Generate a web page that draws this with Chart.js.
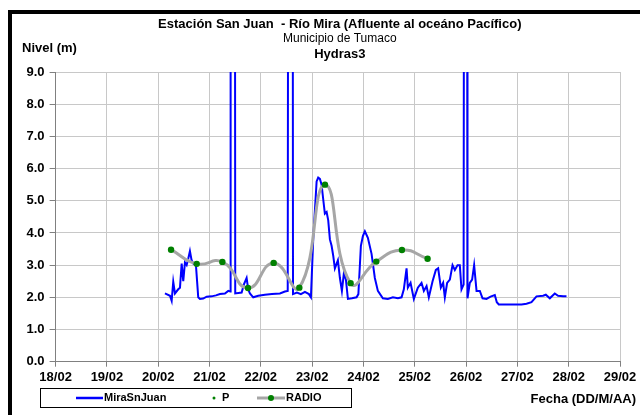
<!DOCTYPE html>
<html>
<head>
<meta charset="utf-8">
<script src="https://cdn.jsdelivr.net/npm/chart.js@4.4.0/dist/chart.umd.min.js"></script>
<style>
  html, body { margin: 0; padding: 0; background: #fff; }
  canvas { display: block; }
</style>
</head>
<body>
<canvas id="chart" width="640" height="415"></canvas>
<script>
'use strict';

// MiraSnJuan: fecha como dia de febrero (fraccion = hora), nivel en metros
const miraFecha = [
  20.131, 20.229, 20.262, 20.293, 20.326, 20.390, 20.424, 20.457, 20.488, 20.521,
  20.554, 20.585, 20.618, 20.651, 20.683, 20.735, 20.780, 20.813, 20.877, 20.944,
  21.041, 21.125, 21.203, 21.300, 21.365, 21.405, 21.411, 21.495, 21.501, 21.626,
  21.670, 21.723, 21.754, 21.787, 21.852, 21.949, 22.079, 22.216, 22.372, 22.469,
  22.524, 22.533, 22.621, 22.627, 22.703, 22.781, 22.859, 22.937, 22.976, 23.021,
  23.087, 23.118, 23.151, 23.184, 23.219, 23.248, 23.282, 23.313, 23.346, 23.379,
  23.410, 23.443, 23.502, 23.541, 23.580, 23.619, 23.658, 23.697, 23.775, 23.866,
  23.901, 23.950, 23.989, 24.028, 24.086, 24.158, 24.222, 24.281, 24.378, 24.476,
  24.573, 24.671, 24.743, 24.787, 24.840, 24.865, 24.918, 24.982, 25.060, 25.132,
  25.177, 25.230, 25.274, 25.347, 25.411, 25.456, 25.508, 25.553, 25.586, 25.631,
  25.684, 25.736, 25.781, 25.834, 25.878, 25.911, 25.952, 25.960, 26.022, 26.028,
  26.073, 26.118, 26.157, 26.204, 26.268, 26.321, 26.398, 26.477, 26.560, 26.599,
  26.638, 26.852, 27.080, 27.178, 27.275, 27.373, 27.501, 27.554, 27.632, 27.729,
  27.793, 27.891, 27.957
];
const miraNivel = [
  2.12, 2.05, 1.89, 2.48, 2.12, 2.25, 2.30, 3.05, 2.50, 3.08,
  3.00, 3.20, 3.44, 3.15, 3.05, 3.00, 2.00, 1.95, 1.96, 2.02,
  2.03, 2.06, 2.10, 2.12, 2.20, 2.18, 15.0, 15.0, 2.12, 2.15,
  2.40, 2.60, 2.25, 2.12, 2.00, 2.05, 2.08, 2.10, 2.12, 2.18,
  2.20, 15.0, 15.0, 2.10, 2.15, 2.10, 2.17, 2.10, 2.00, 3.80,
  5.60, 5.72, 5.68, 5.50, 5.00, 4.60, 4.65, 4.40, 3.80, 3.60,
  3.30, 2.90, 3.15, 2.60, 2.20, 2.75, 2.55, 1.95, 1.97, 2.00,
  2.10, 3.60, 3.90, 4.05, 3.85, 3.35, 2.60, 2.20, 1.97, 1.95,
  2.00, 1.97, 2.00, 2.25, 2.90, 2.30, 2.45, 1.95, 2.30, 2.45,
  2.20, 2.35, 2.00, 2.50, 2.85, 2.90, 2.30, 2.45, 2.00, 2.45,
  2.55, 3.00, 2.85, 3.00, 3.00, 2.25, 2.40, 15.0, 15.0, 1.97,
  2.45, 2.55, 3.00, 2.20, 2.20, 1.97, 1.95, 2.02, 2.07, 1.85,
  1.78, 1.78, 1.78, 1.80, 1.85, 2.03, 2.05, 2.08, 1.97, 2.12,
  2.05, 2.03, 2.03
];

// P y RADIO: un valor cada 12 horas
const radioFecha = [20.25, 20.75, 21.25, 21.75, 22.25, 22.75, 23.25, 23.75, 24.25, 24.75, 25.25];
const radioNivel = [3.48, 3.04, 3.10, 2.29, 3.07, 2.30, 5.50, 2.44, 3.11, 3.47, 3.20];

// ejes
const diasEje = [18, 19, 20, 21, 22, 23, 24, 25, 26, 27, 28, 29];
const etiquetasFecha = ['18/02', '19/02', '20/02', '21/02', '22/02', '23/02',
  '24/02', '25/02', '26/02', '27/02', '28/02', '29/02'];
const nivelEje = [0, 1, 2, 3, 4, 5, 6, 7, 8, 9];

const fuente = 'Liberation Sans, Arial, sans-serif';

function puntos(xs, ys) {
  const out = [];
  for (let i = 0; i < xs.length; i++) {
    out.push({ x: xs[i], y: ys[i] });
  }
  return out;
}

// marco negro, titulos y leyenda (estilo hoja de calculo)
const adornos = {
  id: 'adornos',
  beforeDraw(chart) {
    const ctx = chart.ctx;
    ctx.save();
    ctx.fillStyle = '#ffffff';
    ctx.fillRect(0, 0, chart.width, chart.height);
    ctx.fillStyle = '#000000';
    ctx.fillRect(8, 10, 4, chart.height - 10);
    ctx.fillRect(8, 10, chart.width - 8, 4);
    ctx.restore();
  },
  afterDraw(chart) {
    const ctx = chart.ctx;
    const area = chart.chartArea;
    const cx = (area.left + area.right) / 2 + 2;
    ctx.save();
    ctx.fillStyle = '#000000';
    ctx.textBaseline = 'middle';

    ctx.textAlign = 'center';
    ctx.font = 'bold 13px ' + fuente;
    ctx.fillText('Estación San Juan  - Río Mira (Afluente al oceáno Pacífico)', cx, 24);
    ctx.font = '12px ' + fuente;
    ctx.fillText('Municipio de Tumaco', cx, 39);
    ctx.font = 'bold 13px ' + fuente;
    ctx.fillText('Hydras3', cx, 54);

    ctx.textAlign = 'left';
    ctx.fillText('Nivel (m)', 22, 48);
    ctx.textAlign = 'right';
    ctx.fillText('Fecha (DD/M/AA)', 636, 399);

    // leyenda
    ctx.strokeStyle = '#000000';
    ctx.lineWidth = 1;
    ctx.strokeRect(40.5, 388.5, 311, 19);
    const ly = 398;
    ctx.lineCap = 'butt';
    ctx.strokeStyle = '#0000ff';
    ctx.lineWidth = 2.5;
    ctx.beginPath();
    ctx.moveTo(76, ly);
    ctx.lineTo(103, ly);
    ctx.stroke();
    ctx.strokeStyle = '#a6a6a6';
    ctx.lineWidth = 3;
    ctx.beginPath();
    ctx.moveTo(257, ly);
    ctx.lineTo(285, ly);
    ctx.stroke();
    ctx.fillStyle = '#008000';
    ctx.beginPath();
    ctx.arc(214, ly, 1.5, 0, Math.PI * 2);
    ctx.fill();
    ctx.beginPath();
    ctx.arc(271, ly, 3, 0, Math.PI * 2);
    ctx.fill();
    ctx.fillStyle = '#000000';
    ctx.textAlign = 'left';
    ctx.font = 'bold 11px ' + fuente;
    ctx.fillText('MiraSnJuan', 104, ly);
    ctx.fillText('P', 222, ly);
    ctx.fillText('RADIO', 286, ly);
    ctx.restore();
  }
};

const data = {
  datasets: [
    {
      label: 'P',
      data: puntos(radioFecha, radioNivel),
      showLine: false,
      pointRadius: 3.2,
      pointBackgroundColor: '#008000',
      pointBorderWidth: 0,
      order: 0
    },
    {
      label: 'RADIO',
      data: puntos(radioFecha, radioNivel),
      showLine: true,
      borderColor: '#a6a6a6',
      borderWidth: 3,
      tension: 0.5,
      pointRadius: 0,
      order: 1
    },
    {
      label: 'MiraSnJuan',
      data: puntos(miraFecha, miraNivel),
      showLine: true,
      borderColor: '#0000ff',
      borderWidth: 2,
      tension: 0,
      pointRadius: 0,
      clip: 0,
      order: 2
    }
  ]
};

const config = {
  type: 'scatter',
  data: data,
  plugins: [adornos],
  options: {
    responsive: false,
    animation: false,
    events: [],
    layout: { padding: { left: 0, top: 72, right: 20, bottom: 0 } },
    plugins: {
      legend: { display: false },
      title: { display: false },
      tooltip: { enabled: false }
    },
    scales: {
      x: {
        type: 'linear',
        min: diasEje[0],
        max: diasEje[diasEje.length - 1],
        afterBuildTicks: (s) => { s.ticks = diasEje.map(v => ({ value: v })); },
        afterFit: (s) => { s.height = 53.3; },
        ticks: {
          callback: (v) => etiquetasFecha[diasEje.indexOf(v)],
          color: '#000000',
          font: { family: fuente, size: 13, weight: 'bold' },
          padding: 3,
          maxRotation: 0
        },
        grid: { color: '#c8c8c8', tickColor: '#808080', tickLength: 5 },
        border: { color: '#808080', width: 1 }
      },
      y: {
        min: nivelEje[0],
        max: nivelEje[nivelEje.length - 1],
        afterBuildTicks: (s) => { s.ticks = nivelEje.map(v => ({ value: v })); },
        afterFit: (s) => { s.width = 55.6; },
        ticks: {
          callback: (v) => v.toFixed(1),
          color: '#000000',
          font: { family: fuente, size: 13, weight: 'bold' },
          padding: 5
        },
        grid: { color: '#c8c8c8', tickColor: '#808080', tickLength: 6 },
        border: { color: '#808080', width: 1 }
      }
    }
  }
};

const chartElem = document.getElementById('chart');
const nivelChart = new Chart(chartElem, config);
</script>
</body>
</html>
